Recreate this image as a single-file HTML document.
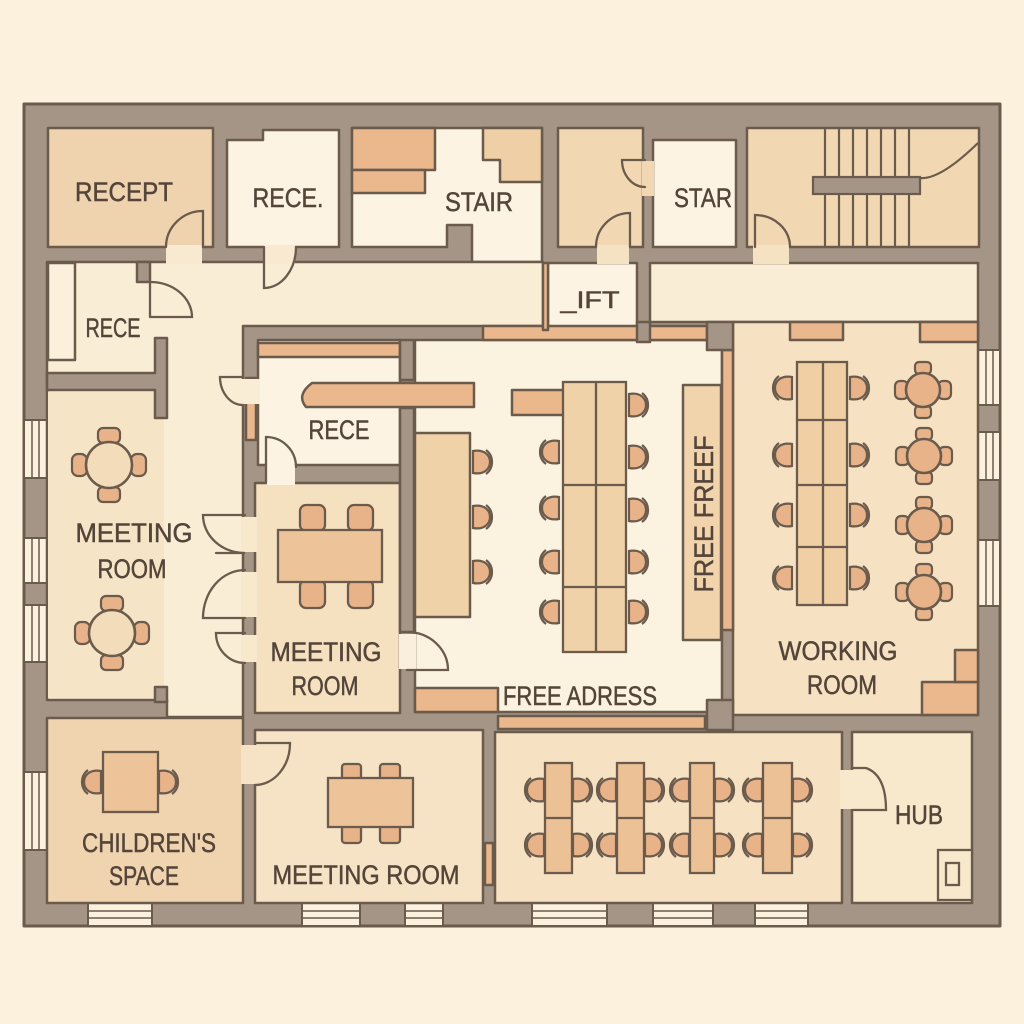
<!DOCTYPE html>
<html><head><meta charset="utf-8">
<style>html,body{margin:0;padding:0;background:#FBF1DD}svg{display:block}</style>
</head><body>
<svg width="1024" height="1024" viewBox="0 0 1024 1024" xmlns="http://www.w3.org/2000/svg" xmlns:xlink="http://www.w3.org/1999/xlink">
<defs>
  <g id="chR">
    <path d="M-8,-11 C3,-13 9,-7 9,0 C9,7 3,13 -8,11 Z" fill="#E8B389" stroke="#6B5B4D" stroke-width="2.2"/>
    <path d="M5,-12 C13,-6 13,6 5,12" fill="none" stroke="#6B5B4D" stroke-width="2.2"/>
  </g>
  <g id="chL" transform="scale(-1,1)"><use href="#chR" xlink:href="#chR"/></g>
  <g id="rt">
    <g fill="#E8B389" stroke="#6B5B4D" stroke-width="2.2">
      <rect x="-11" y="-37" width="22" height="15" rx="5"/>
      <rect x="-11" y="22" width="22" height="15" rx="5"/>
      <rect x="-37" y="-11" width="15" height="22" rx="6"/>
      <rect x="22" y="-11" width="15" height="22" rx="6"/>
    </g>
    <circle r="23" fill="#F3DCBA" stroke="#6B5B4D" stroke-width="2.6"/>
  </g>
  <g id="rt2">
    <g fill="#E8B389" stroke="#6B5B4D" stroke-width="2.2">
      <rect x="-8" y="-28" width="16" height="12" rx="4"/>
      <rect x="-8" y="16" width="16" height="12" rx="4"/>
      <rect x="-28" y="-9" width="13" height="18" rx="5"/>
      <rect x="15" y="-9" width="13" height="18" rx="5"/>
    </g>
    <circle r="17" fill="#E8B389" stroke="#6B5B4D" stroke-width="2.6"/>
  </g>
</defs>

<rect width="1024" height="1024" fill="#FBF1DD"/>

<g stroke="#6B5B4D" stroke-width="2.5" stroke-linejoin="round">
  <rect x="24" y="104" width="976" height="822" fill="#A49586" stroke-width="3"/>

  <g fill="#FBF1DD" stroke-width="2">
    <rect x="24" y="420" width="23" height="58"/>
    <rect x="24" y="538" width="23" height="45"/>
    <rect x="24" y="605" width="23" height="57"/>
    <rect x="24" y="772" width="23" height="78"/>
    <rect x="978" y="350" width="22" height="55"/>
    <rect x="978" y="432" width="22" height="48"/>
    <rect x="978" y="540" width="22" height="66"/>
    <rect x="88" y="903" width="64" height="23"/>
    <rect x="302" y="903" width="58" height="23"/>
    <rect x="405" y="903" width="38" height="23"/>
    <rect x="532" y="903" width="75" height="23"/>
    <rect x="653" y="903" width="60" height="23"/>
    <rect x="755" y="903" width="53" height="23"/>
  </g>
  <g stroke-width="1.5" fill="none">
    <path d="M32,420V478M39,420V478M32,538V583M39,538V583M32,605V662M39,605V662M32,772V850M39,772V850"/>
    <path d="M986,350V405M993,350V405M986,432V480M993,432V480M986,540V606M993,540V606"/>
    <path d="M88,911H152M88,918H152M302,911H360M302,918H360M405,911H443M405,918H443M532,911H607M532,918H607M653,911H713M653,918H713M755,911H808M755,918H808"/>
  </g>

  <rect x="48" y="128" width="165" height="119" fill="#EFD3AF"/>
  <polygon points="227,140 263,140 263,130 339,130 339,247 227,247" fill="#FCF3E2"/>
  <polygon points="352,128 542,128 542,262 472,262 472,225 447,225 447,247 352,247" fill="#FCF3E2"/>
  <rect x="558" y="128" width="85" height="119" fill="#F2D8B2"/>
  <rect x="653" y="140" width="83" height="107" fill="#FCF3E2"/>
  <rect x="747" y="128" width="232" height="119" fill="#F2D8B2"/>

  <polygon points="47,262 543,262 543,326 243,326 243,717 167,717 167,700 47,700" fill="#FAEDD5"/>
  <rect x="48" y="392" width="116" height="306" fill="#F6E4C6" stroke="none"/>
  <rect x="548" y="263" width="89" height="67" fill="#FCF3E2"/>
  <rect x="650" y="263" width="328" height="59" fill="#FAEDD5"/>

  <polygon points="47,373 155,373 155,338 167,338 167,418 155,418 155,390 47,390" fill="#A49586"/>
  <rect x="137" y="262" width="13" height="20" fill="#A49586"/>
  <rect x="155" y="687" width="12" height="15" fill="#A49586"/>
  <rect x="48" y="263" width="27" height="97" fill="#FBF0DC"/>

  <rect x="258" y="340" width="142" height="125" fill="#FCF3E2"/>
  <rect x="255" y="483" width="145" height="230" fill="#F5E0BF"/>
  <rect x="415" y="340" width="307" height="372" fill="#FCF2E0"/>
  <rect x="733" y="322" width="245" height="393" fill="#F6E2C2"/>
  <rect x="47" y="718" width="196" height="185" fill="#F0D4AF"/>
  <rect x="255" y="730" width="228" height="173" fill="#F6E3C5"/>
  <rect x="495" y="732" width="347" height="171" fill="#F6E2C2"/>
  <rect x="852" y="732" width="120" height="171" fill="#F8E8CC"/>

  <g fill="#EBB78C">
    <rect x="483" y="326" width="224" height="14"/>
    <rect x="543" y="263" width="5" height="67"/>
    <rect x="722" y="350" width="11" height="280"/>
    <rect x="790" y="322" width="53" height="18"/>
    <rect x="920" y="322" width="58" height="20"/>
    <rect x="922" y="682" width="56" height="33"/>
    <rect x="955" y="650" width="23" height="32"/>
    <rect x="415" y="688" width="83" height="24"/>
    <rect x="498" y="716" width="207" height="13"/>
    <rect x="485" y="843" width="8" height="42"/>
    <rect x="352" y="128" width="83" height="42"/>
    <rect x="352" y="170" width="73" height="23"/>
    <rect x="258" y="343" width="142" height="14"/>
    <rect x="512" y="390" width="53" height="25"/>
    <rect x="246" y="378" width="10" height="62"/>
    <path d="M312,383 L474,383 L474,407 L306,407 Q296,395 312,383 Z"/>
  </g>
  <polygon points="483,128 542,128 542,182 500,182 500,160 483,160" fill="#EFCFA6"/>
  <g fill="#A49586">
    <rect x="637" y="322" width="13" height="20"/>
    <rect x="707" y="322" width="26" height="28"/>
    <rect x="707" y="700" width="26" height="30"/>
    <rect x="400" y="340" width="14" height="40"/>
    <rect x="400" y="408" width="14" height="224"/>
  </g>

  <rect x="683" y="385" width="38" height="255" fill="#F1D4AC"/>
  <rect x="415" y="433" width="55" height="184" fill="#F0D2A8"/>
</g>

<g stroke="none">
  <rect x="166" y="245" width="36" height="19" fill="#F8EAD1"/>
  <rect x="264" y="245" width="31" height="19" fill="#F8EAD1"/>
  <rect x="597" y="245" width="32" height="19" fill="#F5E2C2"/>
  <rect x="753" y="245" width="36" height="19" fill="#F5E2C2"/>
  <rect x="642" y="161" width="12" height="35" fill="#F2D8B2"/>
  <rect x="241" y="379" width="19" height="25" fill="#FAEDD5"/>
  <rect x="241" y="517" width="16" height="35" fill="#F8E8CC"/>
  <rect x="241" y="572" width="16" height="45" fill="#F8E8CC"/>
  <rect x="241" y="635" width="16" height="27" fill="#F8E8CC"/>
  <rect x="399" y="634" width="17" height="35" fill="#FAEFDC"/>
  <rect x="267" y="463" width="28" height="22" fill="#FCF3E2"/>
  <rect x="241" y="745" width="16" height="39" fill="#F6E3C5"/>
  <rect x="840" y="770" width="14" height="39" fill="#F8E8CC"/>
</g>

<g fill="none" stroke="#6B5B4D" stroke-width="2.3" stroke-linecap="round">
  <path d="M203,247 V211 A37,36 0 0 0 166,247"/>
  <path d="M264,247 V288 A32,41 0 0 0 296,247"/>
  <path d="M150,317 V282 A42,35 0 0 1 192,317 H150"/>
  <path d="M630,247 V213 A34,34 0 0 0 596,247"/>
  <path d="M645,160 H622 A23,27 0 0 0 645,187"/>
  <path d="M755,247 V215 A35,32 0 0 1 790,247"/>
  <path d="M243,377 H220 A23,28 0 0 0 243,405"/>
  <path d="M266,482 V437 A30,30 0 0 1 296,467"/>
  <path d="M245,515 H203 A42,38 0 0 0 245,553 H216"/>
  <path d="M245,570 A42,48 0 0 0 203,618 H245"/>
  <path d="M245,633 H216 A29,30 0 0 0 245,663"/>
  <path d="M407,670 H448 A41,38 0 0 0 409,632"/>
  <path d="M255,743 H290 A35,42 0 0 1 255,785"/>
  <path d="M852,768 H866 Q886,775 886,810 H852"/>
</g>

<g stroke="#6B5B4D" stroke-width="2.2" fill="none">
  <path d="M825,128V247M839,128V247M853,128V247M867,128V247M881,128V247M895,128V247M909,128V247"/>
  <path d="M920,178 Q940,180 978,143"/>
</g>
<rect x="813" y="177" width="107" height="17" fill="#A49586" stroke="#6B5B4D" stroke-width="2.2"/>

<g stroke="#6B5B4D" stroke-width="2.3">
  <use href="#rt" xlink:href="#rt" x="109" y="465"/>
  <use href="#rt" xlink:href="#rt" x="112" y="633"/>

  <g fill="#E8B389">
    <rect x="300" y="505" width="25" height="26" rx="6"/>
    <rect x="348" y="505" width="25" height="26" rx="6"/>
    <rect x="300" y="580" width="25" height="28" rx="6"/>
    <rect x="348" y="580" width="25" height="28" rx="6"/>
  </g>
  <rect x="278" y="530" width="104" height="52" fill="#EDC39A"/>

  <rect x="563" y="382" width="63" height="270" fill="#F0D2A8"/>
  <path d="M596,382V652M563,485H626M563,587H626" fill="none"/>

  <rect x="797" y="362" width="50" height="243" fill="#F0CFA5"/>
  <path d="M823,362V605M797,420H847M797,485H847M797,547H847" fill="none"/>

  <rect x="103" y="752" width="55" height="60" fill="#EDC39A"/>

  <g fill="#E8B389">
    <rect x="342" y="764" width="19" height="16" rx="3"/>
    <rect x="380" y="764" width="20" height="16" rx="3"/>
    <rect x="342" y="825" width="19" height="18" rx="3"/>
    <rect x="380" y="825" width="20" height="18" rx="3"/>
  </g>
  <rect x="328" y="778" width="85" height="49" fill="#EDC39A"/>

  <g fill="#EDC196">
    <rect x="545" y="763" width="27" height="110"/>
    <rect x="617" y="763" width="27" height="110"/>
    <rect x="690" y="763" width="24" height="110"/>
    <rect x="763" y="763" width="29" height="110"/>
  </g>
  <path d="M545,818H572M617,818H644M690,818H714M763,818H792" fill="none"/>

  <rect x="938" y="850" width="34" height="50" fill="#F8E8CC"/>
  <rect x="946" y="863" width="13" height="22" fill="none"/>
</g>

<g>
  <use href="#chR" xlink:href="#chR" x="481" y="462"/>
  <use href="#chR" xlink:href="#chR" x="481" y="517"/>
  <use href="#chR" xlink:href="#chR" x="481" y="572"/>
  <use href="#chL" xlink:href="#chL" x="551" y="452"/>
  <use href="#chL" xlink:href="#chL" x="551" y="508"/>
  <use href="#chL" xlink:href="#chL" x="551" y="562"/>
  <use href="#chL" xlink:href="#chL" x="551" y="612"/>
  <use href="#chR" xlink:href="#chR" x="637" y="405"/>
  <use href="#chR" xlink:href="#chR" x="637" y="457"/>
  <use href="#chR" xlink:href="#chR" x="637" y="510"/>
  <use href="#chR" xlink:href="#chR" x="637" y="562"/>
  <use href="#chR" xlink:href="#chR" x="637" y="612"/>

  <use href="#chL" xlink:href="#chL" x="784" y="388"/>
  <use href="#chL" xlink:href="#chL" x="784" y="455"/>
  <use href="#chL" xlink:href="#chL" x="784" y="515"/>
  <use href="#chL" xlink:href="#chL" x="784" y="578"/>
  <use href="#chR" xlink:href="#chR" x="858" y="388"/>
  <use href="#chR" xlink:href="#chR" x="858" y="455"/>
  <use href="#chR" xlink:href="#chR" x="858" y="515"/>
  <use href="#chR" xlink:href="#chR" x="858" y="578"/>

  <use href="#rt2" xlink:href="#rt2" x="923" y="390"/>
  <use href="#rt2" xlink:href="#rt2" x="924" y="456"/>
  <use href="#rt2" xlink:href="#rt2" x="924" y="525"/>
  <use href="#rt2" xlink:href="#rt2" x="924" y="592"/>

  <use href="#chL" xlink:href="#chL" x="93" y="782"/>
  <use href="#chR" xlink:href="#chR" x="167" y="782"/>

  <use href="#chL" xlink:href="#chL" x="536" y="790"/>
  <use href="#chL" xlink:href="#chL" x="536" y="845"/>
  <use href="#chR" xlink:href="#chR" x="581" y="790"/>
  <use href="#chR" xlink:href="#chR" x="581" y="845"/>
  <use href="#chL" xlink:href="#chL" x="608" y="790"/>
  <use href="#chL" xlink:href="#chL" x="608" y="845"/>
  <use href="#chR" xlink:href="#chR" x="653" y="790"/>
  <use href="#chR" xlink:href="#chR" x="653" y="845"/>
  <use href="#chL" xlink:href="#chL" x="681" y="790"/>
  <use href="#chL" xlink:href="#chL" x="681" y="845"/>
  <use href="#chR" xlink:href="#chR" x="723" y="790"/>
  <use href="#chR" xlink:href="#chR" x="723" y="845"/>
  <use href="#chL" xlink:href="#chL" x="754" y="790"/>
  <use href="#chL" xlink:href="#chL" x="754" y="845"/>
  <use href="#chR" xlink:href="#chR" x="801" y="790"/>
  <use href="#chR" xlink:href="#chR" x="801" y="845"/>
</g>

<g font-family="'Liberation Sans', sans-serif" font-size="27" fill="#54453A" stroke="#54453A" stroke-width="0.5" text-anchor="middle">
  <text x="124" y="201" textLength="98" lengthAdjust="spacingAndGlyphs">RECEPT</text>
  <text x="288" y="207" textLength="71" lengthAdjust="spacingAndGlyphs">RECE.</text>
  <text x="479" y="211" textLength="68" lengthAdjust="spacingAndGlyphs">STAIR</text>
  <text x="703" y="207" textLength="58" lengthAdjust="spacingAndGlyphs">STAR</text>
  <text x="590" y="308" font-size="24" textLength="59" lengthAdjust="spacingAndGlyphs">_IFT</text>
  <text x="113" y="337" textLength="55" lengthAdjust="spacingAndGlyphs">RECE</text>
  <text x="339" y="439" textLength="61" lengthAdjust="spacingAndGlyphs">RECE</text>
  <text x="134" y="542" textLength="117" lengthAdjust="spacingAndGlyphs">MEETING</text>
  <text x="132" y="578" textLength="69" lengthAdjust="spacingAndGlyphs">ROOM</text>
  <text x="326" y="661" textLength="111" lengthAdjust="spacingAndGlyphs">MEETING</text>
  <text x="325" y="695" textLength="67" lengthAdjust="spacingAndGlyphs">ROOM</text>
  <text x="580" y="705" textLength="154" lengthAdjust="spacingAndGlyphs">FREE ADRESS</text>
  <text transform="translate(713,514) rotate(-90)" x="0" y="0" textLength="157" lengthAdjust="spacingAndGlyphs">FREE FREEF</text>
  <text x="838" y="660" textLength="119" lengthAdjust="spacingAndGlyphs">WORKING</text>
  <text x="842" y="694" textLength="70" lengthAdjust="spacingAndGlyphs">ROOM</text>
  <text x="149" y="852" textLength="134" lengthAdjust="spacingAndGlyphs">CHILDREN'S</text>
  <text x="144" y="885" textLength="70" lengthAdjust="spacingAndGlyphs">SPACE</text>
  <text x="366" y="884" textLength="187" lengthAdjust="spacingAndGlyphs">MEETING ROOM</text>
  <text x="919" y="824" textLength="48" lengthAdjust="spacingAndGlyphs">HUB</text>
</g>
</svg>
</body></html>
